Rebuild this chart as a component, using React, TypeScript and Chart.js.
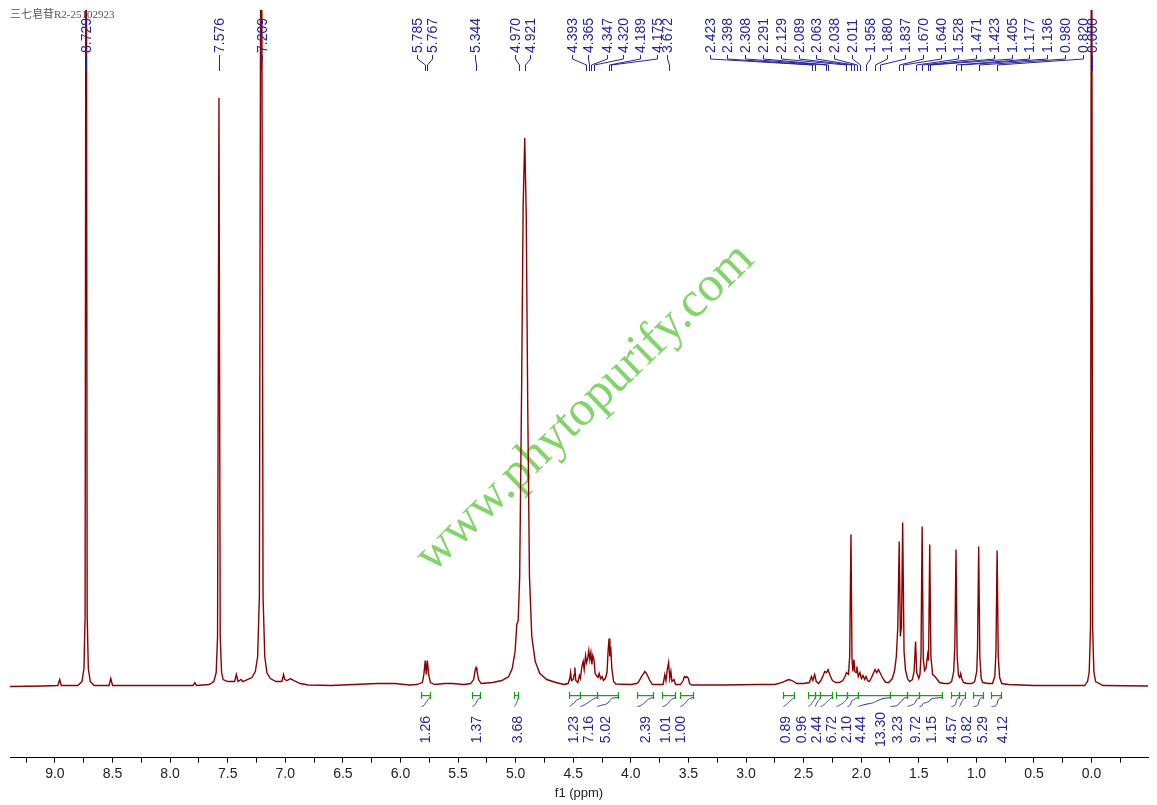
import React, { useEffect, useRef } from 'react';
import { Chart, registerables } from 'chart.js';

Chart.register(...registerables);

const TITLE = '三七皂苷R2-25102923';
const WATERMARK = 'www.phytopurify.com';
const AXIS_TITLE = 'f1 (ppm)';

const axisMin = -0.49;
const axisMax = 9.39;

// Spectrum polyline vertices (ppm, intensity above baseline)
const spectrumPpm = [
  9.39, 9.1, 8.975, 8.958, 8.945, 8.8, 8.765, 8.748, 8.738, 8.729, 8.72, 8.71, 8.693, 8.66,
  8.53, 8.515, 8.5, 8.2, 7.8, 7.785, 7.77,
  7.66, 7.62, 7.6, 7.588, 7.576, 7.565, 7.553, 7.54, 7.5, 7.44, 7.425, 7.41, 7.385, 7.37, 7.33, 7.29, 7.26, 7.24, 7.225, 7.209, 7.193, 7.178, 7.16, 7.13, 7.08, 7.03, 7.015, 7.005, 6.985, 6.955, 6.925, 6.87, 6.8,
  6.6, 6.4, 6.2, 6.05, 5.92,
  5.86, 5.81, 5.797, 5.785, 5.776, 5.767, 5.755, 5.74, 5.7,
  5.62, 5.55, 5.45,
  5.39, 5.365, 5.352, 5.344, 5.336, 5.322, 5.3,
  5.2, 5.12, 5.06, 5.03, 5.005, 4.99, 4.978, 4.965, 4.948, 4.935, 4.921, 4.908, 4.895, 4.88, 4.86, 4.83, 4.79, 4.73, 4.65, 4.58,
  4.545, 4.53, 4.523, 4.515, 4.5, 4.492, 4.486, 4.478, 4.46, 4.447, 4.438, 4.425, 4.414, 4.405, 4.393, 4.385, 4.375, 4.365, 4.356, 4.347, 4.338, 4.33, 4.32, 4.31, 4.298, 4.285, 4.275, 4.262, 4.25, 4.238, 4.222, 4.207, 4.197, 4.189, 4.182, 4.175, 4.165, 4.15, 4.13,
  4.0, 3.95, 3.936, 3.907, 3.89, 3.879, 3.865, 3.859, 3.835, 3.812, 3.76,
  3.72, 3.705, 3.695, 3.685, 3.672, 3.662, 3.652, 3.643, 3.625, 3.612,
  3.57, 3.545, 3.535, 3.525, 3.515, 3.5, 3.49, 3.47,
  3.2, 2.9, 2.75,
  2.72, 2.67, 2.63, 2.6, 2.56, 2.5,
  2.45, 2.432, 2.42, 2.404, 2.39, 2.37,
  2.35, 2.33, 2.317, 2.3, 2.288, 2.27, 2.25, 2.22, 2.19,
  2.16, 2.14, 2.128, 2.11, 2.1, 2.089, 2.08, 2.072, 2.063, 2.055, 2.045, 2.038, 2.025, 2.011, 1.998, 1.985, 1.97, 1.958, 1.945, 1.93,
  1.91, 1.895, 1.88, 1.865, 1.85, 1.837, 1.82, 1.8, 1.785, 1.76,
  1.73, 1.71, 1.695, 1.682, 1.67, 1.66, 1.65, 1.64, 1.628, 1.615, 1.598, 1.58,
  1.555, 1.54, 1.528, 1.518, 1.5, 1.49, 1.481, 1.471, 1.461, 1.45, 1.438, 1.423, 1.415, 1.405, 1.395, 1.38, 1.36, 1.34, 1.32, 1.28, 1.24,
  1.215, 1.197, 1.187, 1.177, 1.167, 1.155, 1.145, 1.136, 1.125, 1.11, 1.08, 1.04,
  1.015, 0.997, 0.99, 0.98, 0.97, 0.958, 0.945, 0.9,
  0.86, 0.84, 0.83, 0.82, 0.81, 0.798, 0.78, 0.72,
  0.5, 0.2, 0.06,
  0.035, 0.02, 0.009, 0.0, -0.009, -0.02, -0.035,
  -0.1, -0.49,
];
const spectrumIntensity = [
  0, 0.5, 1, 7, 1, 1, 5, 18, 70, 1000, 70, 18, 5, 1,
  1, 8, 1, 1, 1, 4, 1,
  2, 5, 14, 50, 588, 50, 14, 7, 5, 5, 12, 5, 7, 5, 7, 9, 15, 30, 90, 1000, 90, 30, 14, 8, 5, 5, 12, 7, 6, 8, 6, 3, 1.5,
  1, 2, 3, 3, 1.5,
  2, 4, 12, 26, 12, 26, 12, 4, 2,
  3, 3, 2,
  3, 7, 16, 19, 16, 7, 3,
  4, 6, 10, 18, 35, 62, 66, 110, 300, 480, 548, 470, 280, 110, 50, 25, 13, 7, 4, 2,
  3, 8, 14, 6, 7, 12, 19, 6, 4, 11, 8, 20, 25, 17, 31, 24, 28, 36, 27, 34, 22, 31, 27, 13, 11, 9, 13, 8, 10, 6, 8, 14, 36, 48, 30, 40, 18, 5, 2.5,
  2, 3, 4, 10, 13, 15, 13, 12, 6, 2, 2,
  2, 12, 6, 16, 24, 8, 15, 5, 7, 2,
  2, 6, 10, 9, 10, 8, 3, 1.5,
  1.5, 2, 2,
  3, 5, 7, 6, 3, 3,
  4, 10, 6, 12, 5, 3,
  6, 11, 15, 14, 17, 11, 6, 4, 4,
  6, 10, 14, 12, 30, 152, 28, 15, 27, 15, 14, 20, 10, 14, 8, 11, 7, 10, 6, 5,
  9, 13, 17, 14, 17, 14, 10, 6, 4, 4,
  8, 16, 30, 60, 145, 50, 60, 164, 35, 16, 8, 5,
  7, 16, 45, 14, 8, 12, 30, 160, 28, 16, 18, 32, 26, 142, 30, 12, 10, 7, 4, 3, 3,
  5, 15, 40, 137, 30, 11, 9, 13, 7, 4, 3, 3,
  5, 15, 38, 140, 30, 8, 4, 3,
  3, 10, 35, 136, 30, 9, 3, 2,
  1, 1, 1,
  5, 15, 60, 1000, 60, 15, 5,
  1, 0.5,
];

// Peak picking labels
const peakLabels = [
  '8.729', '7.576', '7.209', '5.785', '5.767', '5.344', '4.970', '4.921',
  '4.393', '4.365', '4.347', '4.320', '4.189', '4.175', '3.672',
  '2.423', '2.398', '2.308', '2.291', '2.129', '2.089', '2.063', '2.038', '2.011', '1.958', '1.880',
  '1.837', '1.670', '1.640', '1.528', '1.471', '1.423', '1.405', '1.177', '1.136', '0.980', '0.820',
  '0.000',
];
// where the label text sits (ppm along the axis) — layout only
const peakLabelAtLeft = [8.729, 7.575, 7.202, 5.857, 5.727, 5.354, 5.007, 4.876, 4.512, 4.373, 4.208, 4.069, 3.922, 3.774, 3.688];
const rightGroupFrom = 3.315;
const rightGroupTo = 0.078;
const rightGroupCount = 22;
const peakLabelAtZero = [0.0];

// Integrals
const integralValues = ['1.26', '1.37', '3.68', '1.23', '7.16', '5.02', '2.39', '1.01', '1.00',
  '0.89', '0.96', '2.44', '6.72', '2.10', '4.44', '13.30', '3.23', '9.72', '1.15', '4.57', '0.82', '5.29', '4.12'];
const integralFrom = [5.82, 5.38, 5.01, 4.54, 4.44, 4.29, 3.95, 3.73, 3.57,
  2.68, 2.46, 2.40, 2.36, 2.22, 2.12, 2.03, 1.75, 1.60, 1.50, 1.22, 1.15, 1.03, 0.87];
const integralTo = [5.74, 5.31, 4.98, 4.44, 4.29, 4.11, 3.81, 3.62, 3.46,
  2.58, 2.40, 2.36, 2.25, 2.12, 2.03, 1.75, 1.60, 1.50, 1.30, 1.15, 1.10, 0.94, 0.79];
const integralLabelAt = [5.788, 5.345, 4.989, 4.503, 4.373, 4.226, 3.88, 3.705, 3.575,
  2.664, 2.525, 2.395, 2.265, 2.135, 2.005, 1.832, 1.684, 1.536, 1.397, 1.215, 1.085, 0.954, 0.772];

const SPEC_COLOR = '#8b0000';
const BLUE = '#25259a';
const GREEN = '#1e9a1e';

function buildPeakLabelPositions(): number[] {
  const right: number[] = [];
  for (let i = 0; i < rightGroupCount; i++) {
    right.push(rightGroupFrom + (rightGroupTo - rightGroupFrom) * (i / (rightGroupCount - 1)));
  }
  return [...peakLabelAtLeft, ...right, ...peakLabelAtZero];
}

function intensityAt(ppm: number): number {
  for (let i = 0; i < spectrumPpm.length - 1; i++) {
    const a = spectrumPpm[i];
    const b = spectrumPpm[i + 1];
    if (ppm <= a && ppm >= b) {
      const t = a === b ? 0 : (a - ppm) / (a - b);
      return spectrumIntensity[i] + t * (spectrumIntensity[i + 1] - spectrumIntensity[i]);
    }
  }
  return 0;
}

const overlayPlugin = {
  id: 'nmrOverlay',
  beforeDatasetsDraw(chart: any) {
    const ctx = chart.ctx as CanvasRenderingContext2D;
    ctx.save();
    ctx.translate(585, 408);
    ctx.rotate((-44 * Math.PI) / 180);
    ctx.font = "50px 'Liberation Serif', serif";
    ctx.fillStyle = '#84d46c';
    ctx.textAlign = 'center';
    ctx.textBaseline = 'middle';
    ctx.fillText(WATERMARK, 0, 0);
    ctx.restore();
  },
  afterDatasetsDraw(chart: any) {
    const ctx = chart.ctx as CanvasRenderingContext2D;
    const xs = chart.scales.x;
    const ys = chart.scales.y;
    const base = ys.getPixelForValue(0);

    // title
    ctx.save();
    ctx.font = "11px 'Liberation Serif', 'Noto Sans CJK SC', serif";
    ctx.fillStyle = '#555';
    ctx.textAlign = 'left';
    ctx.textBaseline = 'middle';
    ctx.fillText(TITLE, 10, 15);
    ctx.restore();

    // peak labels
    const labelAt = buildPeakLabelPositions();
    ctx.save();
    ctx.strokeStyle = BLUE;
    ctx.fillStyle = BLUE;
    ctx.lineWidth = 1;
    ctx.font = "14px 'Liberation Sans', Arial, sans-serif";
    peakLabels.forEach((lab, i) => {
      const px = Math.round(xs.getPixelForValue(parseFloat(lab))) + 0.5;
      const lx = Math.round(xs.getPixelForValue(labelAt[i])) + 0.5;
      ctx.beginPath();
      ctx.moveTo(lx, 55);
      ctx.lineTo(lx, 59);
      ctx.lineTo(px, 65);
      ctx.lineTo(px, 71);
      ctx.stroke();
      ctx.save();
      ctx.translate(lx, 53);
      ctx.rotate(-Math.PI / 2);
      ctx.textAlign = 'left';
      ctx.textBaseline = 'middle';
      ctx.fillText(lab, 0, 1);
      ctx.restore();
    });
    ctx.restore();

    // integrals
    const bracketY = base + 9;
    ctx.save();
    ctx.font = "14px 'Liberation Sans', Arial, sans-serif";
    integralValues.forEach((val, i) => {
      const x1 = Math.round(xs.getPixelForValue(integralFrom[i])) + 0.5;
      const x2 = Math.round(xs.getPixelForValue(integralTo[i])) + 0.5;
      ctx.strokeStyle = GREEN;
      ctx.lineWidth = 1.2;
      ctx.beginPath();
      ctx.moveTo(x1, bracketY);
      ctx.lineTo(x2, bracketY);
      ctx.moveTo(x1, bracketY - 3.5);
      ctx.lineTo(x1, bracketY + 3.5);
      ctx.moveTo(x2, bracketY - 3.5);
      ctx.lineTo(x2, bracketY + 3.5);
      ctx.stroke();

      // integral curve from spectrum
      const steps = 30;
      const vals: number[] = [0];
      let total = 0;
      for (let s = 1; s <= steps; s++) {
        const p = integralFrom[i] + ((integralTo[i] - integralFrom[i]) * s) / steps;
        total += Math.min(intensityAt(p), 700);
        vals.push(total);
      }
      ctx.strokeStyle = BLUE;
      ctx.lineWidth = 1;
      ctx.beginPath();
      for (let s = 0; s <= steps; s++) {
        const x = x1 + ((x2 - x1) * s) / steps;
        const y = bracketY + 11 - (total > 0 ? (vals[s] / total) * 9 : 0);
        if (s === 0) ctx.moveTo(x, y);
        else ctx.lineTo(x, y);
      }
      ctx.stroke();

      const lx = xs.getPixelForValue(integralLabelAt[i]);
      ctx.save();
      ctx.translate(lx, base + 43);
      ctx.rotate(-Math.PI / 2);
      ctx.fillStyle = BLUE;
      ctx.textAlign = 'center';
      ctx.textBaseline = 'middle';
      ctx.fillText(val, 0, 1);
      ctx.restore();
    });
    ctx.restore();
  },
};

export default function App() {
  const canvasRef = useRef<HTMLCanvasElement | null>(null);

  useEffect(() => {
    const canvas = canvasRef.current;
    if (!canvas) return;
    Chart.defaults.font.family = "'Liberation Sans', Arial, sans-serif";
    const chart = new Chart(canvas, {
      type: 'line',
      data: {
        datasets: [
          {
            data: spectrumPpm.map((p, i) => ({ x: p, y: spectrumIntensity[i] })),
            borderColor: SPEC_COLOR,
            borderWidth: 1.4,
            pointRadius: 0,
            tension: 0,
            fill: false,
          },
        ],
      },
      options: {
        animation: false,
        responsive: false,
        maintainAspectRatio: false,
        layout: { padding: { left: 10, right: 9, top: 10, bottom: 2 } },
        plugins: {
          legend: { display: false },
          tooltip: { enabled: false },
          title: { display: false },
        },
        scales: {
          x: {
            type: 'linear',
            reverse: true,
            min: axisMin,
            max: axisMax,
            afterBuildTicks: (scale: any) => {
              const ticks = [];
              for (let v = Math.ceil(axisMin / 0.25) * 0.25; v <= axisMax + 1e-9; v += 0.25) {
                ticks.push({ value: Math.round(v * 100) / 100 });
              }
              scale.ticks = ticks;
            },
            ticks: {
              autoSkip: false,
              maxRotation: 0,
              padding: 3,
              color: '#222',
              font: { size: 14 },
              callback: (v: any) => {
                const n = Number(v);
                return Math.abs(n * 2 - Math.round(n * 2)) < 1e-6 ? n.toFixed(1) : '';
              },
            },
            grid: {
              display: true,
              drawOnChartArea: false,
              drawTicks: true,
              tickLength: 5,
              color: '#000',
            },
            border: { display: true, color: '#000', width: 1 },
            title: {
              display: true,
              text: AXIS_TITLE,
              color: '#222',
              font: { size: 13 },
              padding: { top: 0, bottom: 2 },
            },
          },
          y: {
            display: false,
            min: -71,
            max: 676,
          },
        },
      },
      plugins: [overlayPlugin],
    });
    return () => chart.destroy();
  }, []);

  return (
    <div style={{ position: 'fixed', left: 0, top: 0, width: 1157, height: 805, background: '#fff' }}>
      <canvas ref={canvasRef} width={1157} height={805} style={{ display: 'block' }} />
    </div>
  );
}
